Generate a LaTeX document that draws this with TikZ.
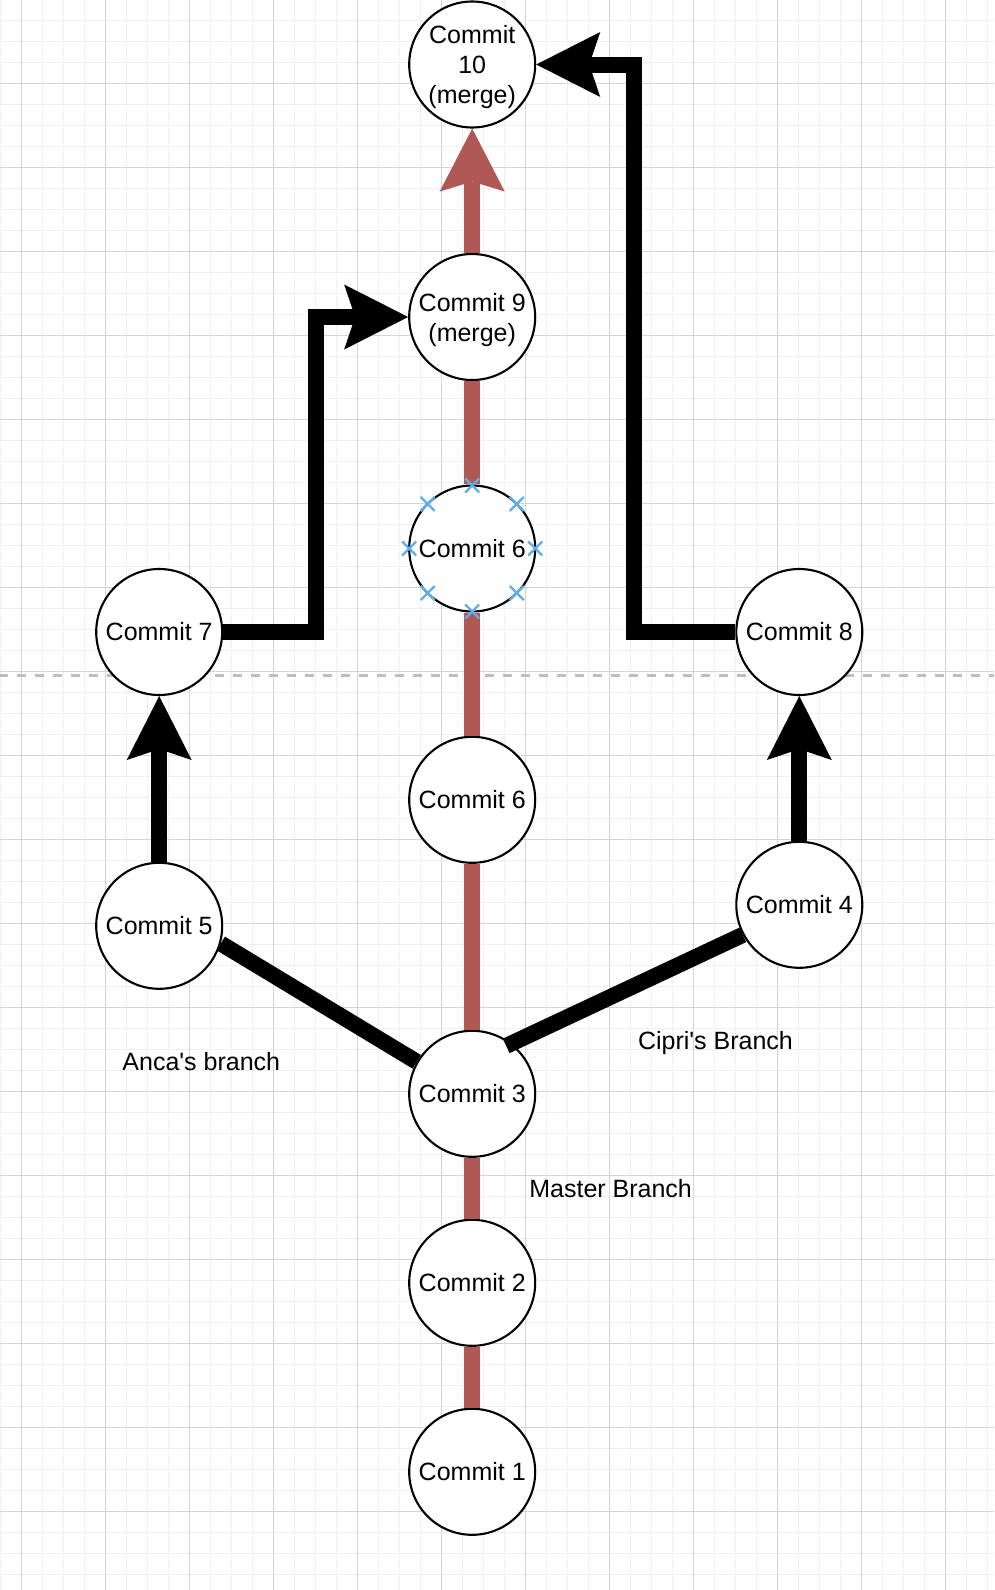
\documentclass[tikz,border=0pt]{standalone}
\usepackage{fontspec}
\setmainfont{Liberation Sans}[Ligatures=TeXOff]
\usetikzlibrary{arrows.meta,calc}
\definecolor{redline}{RGB}{176,89,84}
\definecolor{gridminor}{RGB}{240,240,240}
\definecolor{gridmajor}{RGB}{212,212,212}
\definecolor{dashgray}{RGB}{190,190,190}
\definecolor{markblue}{RGB}{95,175,230}
\begin{document}
\begin{tikzpicture}[x=1pt,y=-1pt,
  commit/.style={circle,draw=black,line width=2.1pt,fill=white,minimum size=126pt,inner sep=0pt,align=center,font=\fontsize{25}{30}\selectfont},
  lbl/.style={inner sep=0pt,anchor=base,font=\fontsize{25}{30}\selectfont},
  masterline/.style={draw=redline,line width=16pt},
  branchline/.style={draw=black,line width=16pt,line join=miter},
  blacktip/.style={-{Stealth[length=64pt,width=65pt,inset=11pt,line width=0pt]}},
  redtip/.style={-{Stealth[length=63pt,width=65pt,inset=10pt,line width=0pt]}},
  cpmark/.style={draw=markblue,line width=2.4pt}
]
\useasboundingbox (0,0) rectangle (994,1590);
\fill[white] (0,0) rectangle (994,1590);
% grid
\foreach \i in {0,...,47} \draw[gridminor,line width=1pt] ({0.3+21*\i},0) -- ({0.3+21*\i},1590);
\foreach \i in {0,...,76} \draw[gridminor,line width=1pt] (0,{-0.7+21*\i}) -- (994,{-0.7+21*\i});
\foreach \i in {0,...,11} \draw[gridmajor,line width=1pt] ({21.3+84*\i},0) -- ({21.3+84*\i},1590);
\foreach \i in {0,...,17} \draw[gridmajor,line width=1pt] (0,{83.3+84*\i}) -- (994,{83.3+84*\i});
\draw[dashgray,line width=3pt,dash pattern=on 9pt off 9pt] (-1.3,675) -- (994,675);
% nodes
\node[commit,text depth=0pt] (c10) at (472.2,64.5) {Commit\\10\\(merge)};
\node[commit,text depth=0pt] (c9) at (472.2,317) {Commit 9\\(merge)};
\node[commit] (c6u) at (472.2,548.5) {Commit 6};
\node[commit] (c7) at (159.2,632) {Commit 7};
\node[commit] (c8) at (799.3,632) {Commit 8};
\node[commit] (c6l) at (472.2,799.8) {Commit 6};
\node[commit] (c5) at (159.2,925.8) {Commit 5};
\node[commit] (c4) at (799.3,904.8) {Commit 4};
\node[commit] (c3) at (472.2,1093.8) {Commit 3};
\node[commit] (c2) at (472.2,1282.8) {Commit 2};
\node[commit] (c1) at (472.2,1471.8) {Commit 1};
% master branch
\draw[masterline] (c1.north) -- (c2.south);
\draw[masterline] (c2.north) -- (c3.south);
\draw[masterline] (c3.north) -- (c6l.south);
\draw[masterline] (c6l.north) -- (c6u.south);
\draw[masterline] (c6u.north) -- (c9.south);
\draw[masterline,redtip] (c9.north) -- (c10.south);
% branches
\draw[branchline] (c5.-16) -- (c3.150);
\draw[branchline,shorten <=-6pt] (c3.52) -- (c4.208);
\draw[branchline,blacktip] (c5.north) -- (c7.south);
\draw[branchline,blacktip] (c4.north) -- (c8.south);
\draw[branchline,blacktip] (c7.east) -- ++(93,0) |- (c9.west);
\draw[branchline,blacktip] (c8.west) -- ++(-101,0) |- (c10.east);
% connection point markers
\foreach \a in {0,45,...,315}
  \draw[cpmark] ($(c6u.center)+(\a:63)$) ++(-7,-7) -- ++(14,14) ++(-14,0) -- ++(14,-14);
% labels
\node[lbl] (anca) at (201.3,1070) {Anca's branch};
\node[lbl] (cipri) at (715.5,1049.3) {Cipri's Branch};
\node[lbl] (master) at (610.6,1197.5) {Master Branch};
\end{tikzpicture}
\end{document}
